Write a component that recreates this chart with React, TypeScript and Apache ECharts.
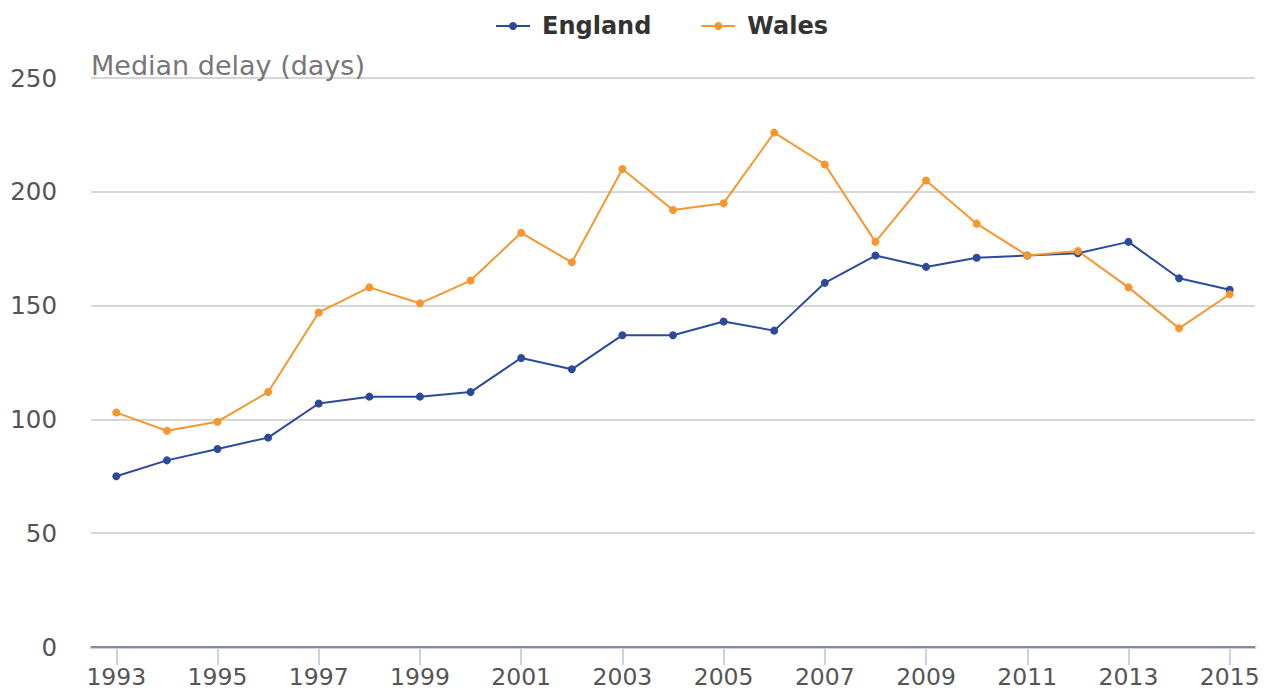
import React, { useEffect, useRef } from "react";
import * as echarts from "echarts";

const years = ["1993","1994","1995","1996","1997","1998","1999","2000","2001","2002","2003","2004","2005","2006","2007","2008","2009","2010","2011","2012","2013","2014","2015"];
const england = [75, 82, 87, 92, 107, 110, 110, 112, 127, 122, 137, 137, 143, 139, 160, 172, 167, 171, 172, 173, 178, 162, 157];
const wales = [103, 95, 99, 112, 147, 158, 151, 161, 182, 169, 210, 192, 195, 226, 212, 178, 205, 186, 172, 174, 158, 140, 155];

const ENG = "#2b4a9b";
const WAL = "#f5972f";
const FONT = "'DejaVu Sans', 'Verdana', sans-serif";

export default function App() {
  const ref = useRef<HTMLDivElement>(null);
  useEffect(() => {
    document.body.style.margin = "0";
    const chart = echarts.init(ref.current!, null, { renderer: "svg" });
    chart.setOption({
      animation: false,
      textStyle: { fontFamily: FONT },
      legend: {
        top: 9,
        left: 490,
        itemWidth: 34,
        itemHeight: 10,
        itemGap: 49,
        textStyle: { fontFamily: FONT, fontSize: 24, fontWeight: "bold", color: "#333", padding: [0, 0, 0, 7] },
        data: ["England", "Wales"],
      },
      grid: { left: 91, right: 13, top: 78, bottom: 44, containLabel: false },
      xAxis: {
        type: "category",
        data: years,
        boundaryGap: true,
        axisLine: { lineStyle: { color: "#c5d4e6", width: 3 } },
        axisTick: { show: true, interval: 1, alignWithLabel: true, length: 18, lineStyle: { color: "#c5d4e6", width: 2 } },
        axisLabel: { interval: 1, color: "#555", fontSize: 23.5, fontFamily: FONT, margin: 18 },
      },
      yAxis: {
        type: "value",
        min: 0,
        max: 250,
        interval: 50,
        name: "Median delay (days)",
        nameLocation: "end",
        nameGap: -1,
        nameTextStyle: { align: "left", verticalAlign: "bottom", color: "#777", fontSize: 27, fontFamily: FONT },
        axisLine: { show: false },
        axisTick: { show: false },
        axisLabel: { color: "#555", fontSize: 24.5, fontFamily: FONT, margin: 34 },
        splitLine: { lineStyle: { color: "#d6d6d6", width: 2 } },
      },
      series: [
        {
          name: "England",
          type: "line",
          data: england,
          color: ENG,
          symbol: "circle",
          symbolSize: 8,
          lineStyle: { width: 2 },
          markLine: {
            silent: true,
            symbol: "none",
            label: { show: false },
            lineStyle: { color: "#8a8a8a", width: 2, type: "solid" },
            data: [{ yAxis: 0 }],
          },
        },
        {
          name: "Wales",
          type: "line",
          data: wales,
          color: WAL,
          symbol: "circle",
          symbolSize: 8,
          lineStyle: { width: 2 },
        },
      ],
    });
    return () => chart.dispose();
  }, []);
  return <div ref={ref} style={{ width: 1268, height: 691 }} />;
}
